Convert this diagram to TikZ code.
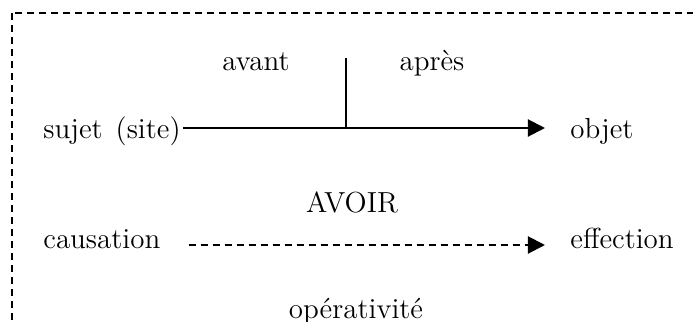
\documentclass[tikz,border=0pt]{standalone}
\usepackage{tikz}
\usetikzlibrary{arrows.meta}

\begin{document}
\begin{tikzpicture}[x=0.5pt, y=-0.5pt,
  label/.style = {inner sep=0pt, font=\fontsize{14.5}{17}\selectfont},
  link/.style = {line width=1pt, -{Triangle[length=8.5pt,width=8.5pt]}},
  frame/.style = {line width=0.9pt, dash pattern=on 3.5pt off 2.5pt}]
\clip (0,0) rectangle (693,322);
\draw[frame] (12,13) rectangle (720,360);

\node[label, anchor=base west] (sujet) at (43,138) {sujet\hspace{0.45em}(site)};
\node[label, anchor=base west] (objet) at (570,138) {objet};
\node[label, anchor=base] (avant) at (256,70) {avant};
\node[label, anchor=base] (apres) at (432,70) {après};
\node[label, anchor=base] (avoir) at (352,212) {AVOIR};
\node[label, anchor=base west] (causation) at (43,248) {causation};
\node[label, anchor=base west] (effection) at (570,248) {effection};
\node[label, anchor=base] (operativite) at (356,318) {opérativité};
\coordinate (tick) at (346,58);

\draw[link] ([xshift=1pt,yshift=5pt]sujet.base east) -- ([xshift=-12.5pt,yshift=5pt]objet.base west);
\draw[line width=0.9pt] (tick) -- ([yshift=5pt]tick |- sujet.base);
\draw[link, dash pattern=on 3.5pt off 2.5pt] ([xshift=14pt,yshift=1.5pt]causation.base east) -- ([xshift=-12.5pt,yshift=1.5pt]effection.base west);

\end{tikzpicture}
\end{document}
